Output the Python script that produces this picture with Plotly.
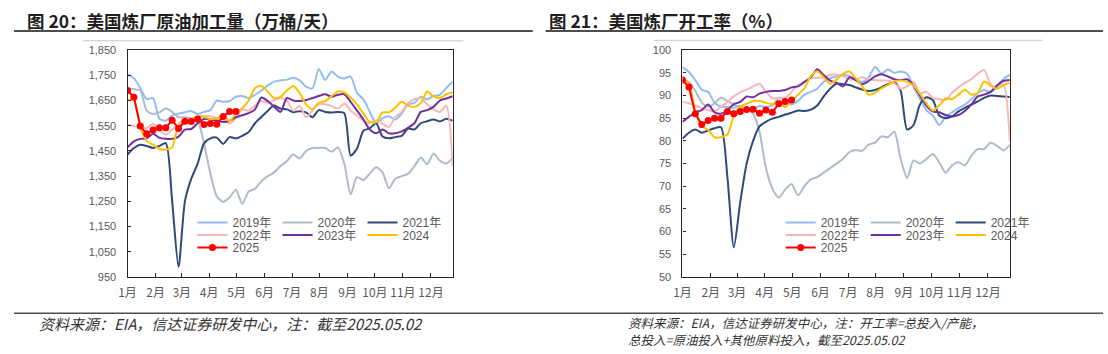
import plotly.graph_objects as go

W, H = 1108, 354

# ---------------- data ----------------
weeks = list(range(52))
weeks_2025 = list(range(18))
month_labels = ["1月", "2月", "3月", "4月", "5月", "6月", "7月", "8月", "9月", "10月", "11月", "12月"]
month_pos = [0, 4.4, 8.5, 12.8, 17.1, 21.5, 25.8, 30.1, 34.5, 38.8, 43.2, 47.6]
years = ["2019年", "2020年", "2021年", "2022年", "2023年", "2024", "2025"]

# 美国炼厂原油加工量（万桶/天）
runs_2019 = [1754, 1738, 1700, 1656, 1660, 1578, 1570, 1590, 1598, 1604,
             1608, 1597, 1605, 1612, 1650, 1645, 1648, 1665, 1668, 1660,
             1673, 1690, 1710, 1725, 1730, 1733, 1740, 1730, 1705, 1698,
             1775, 1732, 1765, 1745, 1738, 1745, 1680, 1655, 1605, 1560,
             1580, 1588, 1575, 1598, 1635, 1641, 1665, 1655, 1668, 1673,
             1700, 1725]
runs_2020 = [1699, 1695, 1690, 1610, 1597, 1603, 1618, 1605, 1584, 1584,
             1580, 1570, 1480, 1360, 1270, 1248, 1265, 1296, 1240, 1289,
             1300, 1330, 1350, 1365, 1390, 1410, 1436, 1420, 1450, 1462,
             1462, 1462, 1447, 1465, 1400, 1278, 1347, 1334, 1360, 1385,
             1365, 1302, 1340, 1350, 1360, 1390, 1424, 1398, 1440, 1411,
             1400, 1424]
runs_2021 = [1436, 1462, 1475, 1470, 1462, 1470, 1481, 1250, 990, 1250,
             1340, 1400, 1480, 1500, 1503, 1478, 1505, 1500, 1510, 1525,
             1560, 1585, 1610, 1630, 1618, 1615, 1604, 1608, 1603, 1584,
             1612, 1605, 1603, 1605, 1600, 1432, 1460, 1530, 1540, 1560,
             1507, 1500, 1505, 1510, 1539, 1535, 1560, 1568, 1575, 1567,
             1578, 1570]
runs_2022 = [1554, 1549, 1545, 1540, 1558, 1530, 1515, 1535, 1558, 1577,
             1571, 1584, 1590, 1588, 1580, 1575, 1558, 1580, 1615, 1610,
             1630, 1648, 1641, 1652, 1660, 1650, 1610, 1628, 1584, 1610,
             1635, 1635, 1628, 1618, 1638, 1610, 1590, 1570, 1560, 1571,
             1558, 1545, 1585, 1605, 1640, 1655, 1660, 1635, 1615, 1605,
             1630, 1390]
runs_2023 = [1465, 1488, 1498, 1500, 1518, 1502, 1498, 1498, 1507, 1535,
             1537, 1560, 1577, 1575, 1571, 1565, 1570, 1584, 1592, 1600,
             1615, 1662, 1648, 1625, 1605, 1660, 1650, 1648, 1652, 1660,
             1668, 1675, 1665, 1673, 1675, 1645, 1610, 1575, 1535, 1520,
             1535, 1520, 1520, 1528, 1542, 1560, 1605, 1612, 1625, 1650,
             1658, 1667]
runs_2024 = [1650, 1655, 1545, 1490, 1475, 1458, 1455, 1465, 1550, 1562,
             1575, 1588, 1585, 1576, 1580, 1590, 1568, 1600, 1620, 1650,
             1700, 1708, 1685, 1660, 1665, 1690, 1708, 1680, 1635, 1616,
             1641, 1648, 1667, 1686, 1682, 1662, 1635, 1598, 1565, 1564,
             1603, 1603, 1622, 1645, 1630, 1625, 1640, 1686, 1667, 1660,
             1675, 1683]
runs_2025 = [1690, 1663, 1549, 1518, 1533, 1542, 1542, 1572, 1539, 1568,
             1567, 1577, 1555, 1559, 1556, 1587, 1607, 1607]

# 美国炼厂开工率（%）
util_2019 = [96.2, 95.2, 93.4, 91.3, 90.8, 88.4, 87.5, 87.5, 87.3, 87.7,
             87.0, 87.0, 87.7, 87.5, 87.8, 89.5, 89.2, 88.0, 88.8, 90.2,
             90.8, 91.5, 93.0, 93.8, 94.2, 94.5, 94.3, 93.5, 93.0, 94.0,
             96.3, 94.8, 95.8, 95.0, 95.3, 94.8, 92.0, 89.3, 86.8, 85.6,
             83.5, 85.3, 86.3, 87.2, 88.0, 89.2, 90.5, 91.2, 90.7, 92.0,
             93.6, 94.6]
util_2020 = [93.5, 93.0, 91.0, 88.5, 87.5, 88.3, 89.5, 88.8, 88.0, 87.4,
             87.0, 86.0, 82.0, 74.0, 69.5, 67.5, 69.3, 70.5, 68.0, 70.0,
             71.5, 72.0, 73.0, 74.0, 75.0, 76.0, 77.5, 78.0, 77.8, 79.2,
             79.6, 81.0, 80.8, 82.0, 76.0, 71.8, 75.7, 75.0, 76.0, 77.1,
             75.3, 73.0, 74.6, 75.3, 74.6, 76.7, 78.2, 78.2, 79.6, 78.9,
             77.9, 79.1]
util_2021 = [80.5, 81.8, 82.5, 81.8, 82.3, 82.8, 83.0, 72.0, 56.5, 66.5,
             75.0, 80.0, 83.2, 84.2, 84.9, 85.3, 85.8, 86.2, 86.7, 86.6,
             86.9, 87.8, 89.8, 91.5, 92.6, 92.5, 92.3, 91.8, 91.3, 91.0,
             91.2, 91.8, 92.5, 93.0, 91.0, 82.5, 83.5, 88.0, 89.6, 89.0,
             85.6, 85.0, 85.4, 86.5, 87.3, 88.0, 88.7, 89.5, 90.0, 89.9,
             89.8, 89.7]
util_2022 = [88.6, 88.3, 87.8, 87.2, 86.8, 86.5, 87.5, 88.6, 89.8, 90.7,
             91.3, 92.0, 92.6, 90.8, 89.4, 89.4, 89.5, 90.8, 92.3, 93.0,
             93.8, 93.9, 94.0, 94.6, 94.6, 94.3, 93.6, 93.5, 94.0, 93.5,
             93.4, 93.3, 93.3, 92.7, 91.5, 92.0, 93.0, 90.5, 90.8, 89.5,
             89.2, 89.0, 90.6, 91.8, 92.8, 93.6, 94.8, 95.6, 92.5, 91.5,
             92.5, 80.0]
util_2023 = [84.2, 85.3, 86.3, 86.8, 88.0, 86.3, 86.0, 86.8, 88.1, 88.6,
             89.8, 89.6, 90.4, 90.8, 91.0, 91.0, 91.2, 91.8, 92.0, 93.0,
             94.0, 95.8, 94.5, 93.3, 92.8, 92.0, 94.0, 93.4, 92.5, 93.2,
             94.2, 94.7, 94.2, 93.6, 93.4, 93.6, 92.2, 90.0, 87.8, 86.5,
             86.3, 85.7, 85.4, 85.7, 86.6, 88.0, 89.8, 90.2, 90.8, 92.2,
             93.2, 93.4]
util_2024 = [93.4, 92.7, 86.5, 83.3, 82.4, 80.8, 80.8, 81.4, 85.5, 87.5,
             88.2, 88.8, 88.8, 88.4, 88.1, 88.8, 87.4, 88.8, 90.2, 91.6,
             94.3, 95.3, 94.0, 92.6, 93.5, 94.8, 95.3, 93.8, 92.0, 90.2,
             90.6, 91.6, 92.3, 93.1, 93.3, 93.0, 92.2, 90.4, 88.3, 86.7,
             87.8, 89.4, 89.2, 90.2, 91.3, 90.2, 90.6, 93.1, 92.2, 91.5,
             92.3, 92.8]
util_2025 = [93.4, 91.9, 86.0, 83.6, 84.5, 85.0, 85.0, 86.5, 86.0, 86.5,
             86.9, 87.0, 86.1, 86.8, 86.3, 88.2, 88.7, 89.0]

runs_ticks = list(range(950, 1851, 100))
util_ticks = list(range(50, 101, 5))

# ---------------- style ----------------
colors = ["#93BCF5", "#AFBBCC", "#2E4A7B", "#F9B6B6", "#7030A0", "#FFC000", "#FF0000"]
FONT = "Liberation Sans, Arial, Noto Sans CJK SC, sans-serif"
CJK = "Noto Sans CJK SC, Liberation Sans, sans-serif"
AX = "#262626"
TXT = "#595959"


def px(x):
    return x / W


def py(y):
    return 1 - y / H


fig = go.Figure()

left_series = [runs_2019, runs_2020, runs_2021, runs_2022, runs_2023, runs_2024]
right_series = [util_2019, util_2020, util_2021, util_2022, util_2023, util_2024]
row_of = [0, 0, 0, 1, 1, 1]

for side, series, last, xa, ya, lbase in [
    ("L", left_series, runs_2025, "x", "y", 1),
    ("R", right_series, util_2025, "x2", "y2", 4),
]:
    for i, ys in enumerate(series):
        lg = "legend" if (lbase + row_of[i]) == 1 else f"legend{lbase + row_of[i]}"
        fig.add_trace(go.Scatter(
            x=weeks, y=ys, name=years[i], mode="lines",
            line=dict(color=colors[i], width=2, shape="spline", smoothing=0.7),
            xaxis=xa, yaxis=ya, legend=lg, hoverinfo="skip",
        ))
    fig.add_trace(go.Scatter(
        x=weeks_2025, y=last, name=years[6], mode="lines+markers",
        line=dict(color=colors[6], width=2),
        marker=dict(color=colors[6], size=7),
        xaxis=xa, yaxis=ya, legend=f"legend{lbase + 2}", hoverinfo="skip",
    ))

xcommon = dict(
    range=[0, 51], tickvals=month_pos, ticktext=month_labels,
    showline=True, linecolor=AX, linewidth=1.3, mirror=True,
    ticks="inside", ticklen=4, tickcolor=AX, showgrid=False, zeroline=False,
    tickfont=dict(family=CJK, size=12, color=TXT), ticklabelstandoff=4,
)
ycommon = dict(
    showline=True, linecolor=AX, linewidth=1.3, mirror=True,
    ticks="inside", ticklen=3, tickcolor=AX, showgrid=False, zeroline=False,
    tickfont=dict(family=FONT, size=11, color=TXT), ticklabelstandoff=8,
)

ydom = [py(280.5), py(45.7)]
fig.update_layout(
    width=W, height=H, margin=dict(l=0, r=0, t=0, b=0),
    paper_bgcolor="white", plot_bgcolor="white",
    xaxis=dict(domain=[px(119.5), px(447.3)], anchor="y", **xcommon),
    yaxis=dict(domain=ydom, anchor="x", range=[950, 1850], tickvals=runs_ticks,
               tickformat=",", **ycommon),
    xaxis2=dict(domain=[px(679), px(1009)], anchor="y2", **xcommon),
    yaxis2=dict(domain=ydom, anchor="x2", range=[50, 100], tickvals=util_ticks,
                **ycommon),
    font=dict(family=CJK),
)

legend_style = dict(
    orientation="h", xanchor="left", yanchor="middle",
    entrywidth=40, entrywidthmode="pixels", itemwidth=30,
    bgcolor="rgba(0,0,0,0)", borderwidth=0,
    font=dict(family=FONT, size=12, color=TXT), tracegroupgap=0,
)
rows_y = [224, 237, 250]
fig.update_layout(
    legend=dict(x=px(185), y=py(rows_y[0]), **legend_style),
    legend2=dict(x=px(185), y=py(rows_y[1]), **legend_style),
    legend3=dict(x=px(185), y=py(rows_y[2]), **legend_style),
    legend4=dict(x=px(778), y=py(rows_y[0]), **legend_style),
    legend5=dict(x=px(778), y=py(rows_y[1]), **legend_style),
    legend6=dict(x=px(778), y=py(rows_y[2]), **legend_style),
)

shapes = [
    # title underlines
    dict(type="line", xref="paper", yref="paper", x0=px(5), x1=px(528), y0=py(26), y1=py(26),
         line=dict(color="#4D4D4D", width=2)),
    dict(type="line", xref="paper", yref="paper", x0=px(541), x1=px(1103), y0=py(26), y1=py(26),
         line=dict(color="#4D4D4D", width=2)),
    # chart frame top lines
    dict(type="line", xref="paper", yref="paper", x0=px(75), x1=px(458), y0=py(36), y1=py(36),
         line=dict(color="#C8C8C8", width=1)),
    dict(type="line", xref="paper", yref="paper", x0=px(650), x1=px(1042), y0=py(35.5), y1=py(35.5),
         line=dict(color="#C8C8C8", width=1)),
    # source separator
    dict(type="line", xref="paper", yref="paper", x0=px(5), x1=px(1103), y0=py(318), y1=py(318),
         line=dict(color="#4D4D4D", width=1.5)),
]
fig.update_layout(shapes=shapes)

title_font = dict(family=CJK, size=17.5, color="#1F1F1F")
src_font = dict(family=CJK, size=15, color="#333333", style="italic")
src_font_r = dict(family=CJK, size=12.5, color="#333333", style="italic")
annotations = [
    dict(text="<b>图 20：美国炼厂原油加工量（万桶/天）</b>", x=px(16), y=py(15.5),
         xanchor="left", yanchor="middle", font=title_font),
    dict(text="<b>图 21：美国炼厂开工率（%）</b>", x=px(542), y=py(15.5),
         xanchor="left", yanchor="middle", font=title_font),
    dict(text="资料来源：EIA，信达证券研发中心，注：截至2025.05.02", x=px(28), y=py(329),
         xanchor="left", yanchor="middle", font=src_font),
    dict(text="资料来源：EIA，信达证券研发中心，注：开工率=总投入/产能，",
         x=px(622), y=py(327.3), xanchor="left", yanchor="middle", font=src_font_r),
    dict(text="总投入=原油投入+其他原料投入，截至2025.05.02",
         x=px(622), y=py(345.3), xanchor="left", yanchor="middle", font=src_font_r),
]
for a in annotations:
    a.update(xref="paper", yref="paper", showarrow=False)
fig.update_layout(annotations=annotations)

fig.write_html("out.html")
